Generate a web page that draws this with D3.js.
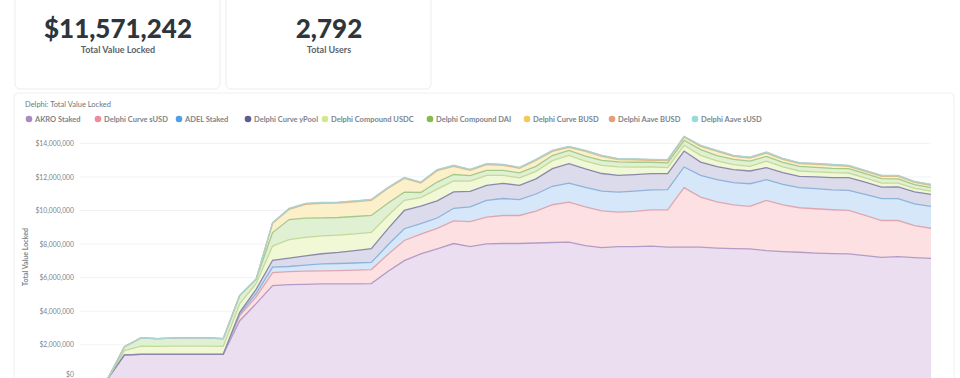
<!DOCTYPE html>
<html>
<head>
<meta charset="utf-8">
<script src="https://cdn.jsdelivr.net/npm/d3@7"></script>
<style>
  body { margin: 0; background: #fff; font-family: Lato, "Open Sans", sans-serif; }
  svg { display: block; }
</style>
</head>
<body>
<svg width="960" height="378"></svg>
<script>
// scalar cards
const cardValues = ["$11,571,242", "2,792"];
const cardLabels = ["Total Value Locked", "Total Users"];

// series, bottom to top of the stack
const seriesNames = ["AKRO Staked", "Delphi Curve sUSD", "ADEL Staked", "Delphi Curve yPool",
  "Delphi Compound USDC", "Delphi Compound DAI", "Delphi Curve BUSD", "Delphi Aave BUSD", "Delphi Aave sUSD"];

// daily values in $ millions
const akro = [0, 1.40, 1.42, 1.42, 1.42, 1.42, 1.42, 1.42, 3.43, 4.45, 5.52, 5.58, 5.60, 5.62, 5.62, 5.63, 5.64,
  6.36, 7.01, 7.41, 7.71, 8.03, 7.85, 8.01, 8.03, 8.03, 8.06, 8.09, 8.11, 7.91, 7.79, 7.85, 7.85, 7.88, 7.81,
  7.81, 7.81, 7.76, 7.73, 7.71, 7.61, 7.55, 7.51, 7.46, 7.43, 7.41, 7.31, 7.21, 7.25, 7.19, 7.15];
const curveSusd = [0, 0, 0, 0, 0, 0, 0, 0, 0.30, 0.40, 0.78, 0.78, 0.78, 0.78, 0.80, 0.82, 0.84,
  1.02, 1.20, 1.18, 1.22, 1.35, 1.48, 1.59, 1.67, 1.67, 1.90, 2.25, 2.39, 2.30, 2.18, 2.05, 2.10, 2.15, 2.23,
  3.55, 2.98, 2.75, 2.60, 2.53, 2.99, 2.78, 2.65, 2.64, 2.61, 2.59, 2.40, 2.19, 2.15, 1.90, 1.79];
const adel = [0, 0, 0, 0, 0, 0, 0, 0, 0.10, 0.20, 0.32, 0.30, 0.36, 0.42, 0.42, 0.42, 0.42,
  0.56, 0.70, 0.62, 0.62, 0.75, 0.88, 1.00, 1.01, 0.94, 1.02, 1.10, 1.13, 1.16, 1.18, 1.19, 1.20, 1.20, 1.20,
  1.23, 1.30, 1.32, 1.33, 1.35, 1.23, 1.22, 1.20, 1.20, 1.19, 1.19, 1.25, 1.30, 1.30, 1.30, 1.30];
const curveYpool = [0, 0, 0, 0, 0, 0, 0, 0, 0.10, 0.25, 0.41, 0.50, 0.55, 0.60, 0.66, 0.74, 0.83,
  0.96, 1.09, 1.05, 1.02, 0.98, 0.92, 0.89, 0.90, 0.85, 0.90, 1.05, 1.16, 1.10, 1.05, 1.00, 0.98, 0.96, 0.95,
  0.95, 0.79, 0.78, 0.77, 0.76, 0.72, 0.70, 0.67, 0.70, 0.73, 0.76, 0.72, 0.69, 0.70, 0.71, 0.72];
const compUsdc = [0, 0.25, 0.50, 0.48, 0.50, 0.50, 0.50, 0.48, 0.50, 0.35, 0.85, 1.10, 1.10, 1.07, 1.03, 1.00, 0.96,
  0.78, 0.60, 0.50, 0.70, 0.65, 0.62, 0.60, 0.48, 0.45, 0.45, 0.48, 0.49, 0.47, 0.48, 0.50, 0.45, 0.40, 0.36,
  0.34, 0.40, 0.34, 0.30, 0.28, 0.39, 0.34, 0.32, 0.30, 0.29, 0.28, 0.26, 0.24, 0.23, 0.21, 0.19];
const compDai = [0, 0.23, 0.48, 0.46, 0.47, 0.48, 0.48, 0.46, 0.50, 0.25, 0.80, 1.20, 1.15, 1.07, 1.05, 1.03, 1.01,
  0.75, 0.49, 0.31, 0.42, 0.38, 0.32, 0.30, 0.30, 0.30, 0.30, 0.30, 0.30, 0.30, 0.30, 0.30, 0.29, 0.28, 0.28,
  0.30, 0.34, 0.32, 0.31, 0.31, 0.28, 0.28, 0.28, 0.27, 0.26, 0.26, 0.26, 0.26, 0.25, 0.23, 0.21];
const curveBusd = [0, 0, 0, 0, 0, 0, 0, 0, 0, 0, 0.55, 0.60, 0.82, 0.86, 0.86, 0.87, 0.90,
  0.88, 0.82, 0.56, 0.68, 0.49, 0.32, 0.34, 0.30, 0.27, 0.35, 0.25, 0.18, 0.28, 0.24, 0.14, 0.14, 0.11, 0.14,
  0.18, 0.20, 0.25, 0.18, 0.18, 0.20, 0.17, 0.16, 0.18, 0.18, 0.14, 0.13, 0.14, 0.15, 0.13, 0.13];
const aaveBusd = [0, 0, 0, 0, 0, 0, 0, 0, 0, 0, 0.03, 0.04, 0.04, 0.04, 0.04, 0.04, 0.04,
  0.04, 0.04, 0.04, 0.04, 0.04, 0.04, 0.04, 0.04, 0.04, 0.04, 0.04, 0.04, 0.04, 0.04, 0.04, 0.04, 0.04, 0.04,
  0.04, 0.04, 0.04, 0.04, 0.04, 0.04, 0.04, 0.04, 0.04, 0.04, 0.04, 0.04, 0.04, 0.04, 0.04, 0.04];
const aaveSusd = [0, 0, 0, 0, 0, 0, 0, 0, 0, 0, 0.02, 0.02, 0.02, 0.02, 0.02, 0.02, 0.02,
  0.02, 0.02, 0.02, 0.02, 0.02, 0.02, 0.02, 0.02, 0.02, 0.02, 0.02, 0.02, 0.02, 0.02, 0.02, 0.02, 0.02, 0.02,
  0.02, 0.02, 0.02, 0.02, 0.02, 0.02, 0.02, 0.02, 0.02, 0.02, 0.02, 0.02, 0.02, 0.02, 0.02, 0.02];

const yTicks = [0, 2e6, 4e6, 6e6, 8e6, 10e6, 12e6, 14e6];

const dotColors = ["#a98bc0", "#ef8c9c", "#509ee3", "#5f5d8f", "#cfea8a", "#84bb4c", "#f1c95f", "#e5a07b", "#98d9d9"];
const fillColors = ["#e8dbef", "#fcdde0", "#d2e5f8", "#d9d8ea", "#eff7d2", "#dcefcf", "#fcefc6", "#f6dcc9", "#d6f0f0"];
const lineColors = ["#b49bc6", "#e0a6b0", "#8db3da", "#8a89ab", "#c5d99a", "#a5c989", "#d8c389", "#dcb49c", "#a8d4d4"];

const allSeries = [akro, curveSusd, adel, curveYpool, compUsdc, compDai, curveBusd, aaveBusd, aaveSusd];
const table = akro.map((_, i) => {
  const row = { day: i };
  seriesNames.forEach((n, k) => row[n] = allSeries[k][i] * 1e6);
  return row;
});

const svg = d3.select("svg");

//top cards
const cardX = [15, 226];
cardX.forEach((cx, i) => {
  svg.append("rect")
    .attr("x", cx).attr("y", -10).attr("width", 205).attr("height", 99)
    .attr("rx", 5)
    .attr("fill", "#fff").attr("stroke", "#ebedef");
  svg.append("text")
    .attr("x", cx + 103).attr("y", 38)
    .attr("text-anchor", "middle")
    .attr("font-size", 26).attr("font-weight", 900)
    .attr("fill", "#2e353b")
    .text(cardValues[i]);
  svg.append("text")
    .attr("x", cx + 103).attr("y", 53)
    .attr("text-anchor", "middle")
    .attr("font-size", 9).attr("font-weight", 700)
    .attr("fill", "#5a636b")
    .text(cardLabels[i]);
});

//chart card
svg.append("rect")
  .attr("x", 14).attr("y", 93).attr("width", 940).attr("height", 300)
  .attr("rx", 4)
  .attr("fill", "#fff").attr("stroke", "#eef0f2");

svg.append("text")
  .attr("x", 25).attr("y", 107)
  .attr("font-size", 7.5).attr("fill", "#6d767e")
  .text("Delphi: Total Value Locked");

//legend
const legendX = [29, 98, 179, 248, 325, 430, 527, 612, 695];
seriesNames.forEach((n, i) => {
  svg.append("circle")
    .attr("cx", legendX[i]).attr("cy", 119).attr("r", 3.3)
    .attr("fill", dotColors[i]);
  svg.append("text")
    .attr("x", legendX[i] + 6).attr("y", 121.5)
    .attr("font-size", 7.5).attr("font-weight", 700)
    .attr("fill", "#7c858d")
    .text(n);
});

//scales
const x = d3.scaleLinear().domain([0, akro.length - 1]).range([108, 931]);
const y = d3.scaleLinear().domain([0, 14e6]).range([378.3, 143.3]);

//grid
svg.append("g")
  .selectAll("line")
  .data(yTicks.slice(1))
  .join("line")
  .attr("x1", 80).attr("x2", 931)
  .attr("y1", d => y(d)).attr("y2", d => y(d))
  .attr("stroke", "#f1f2f4");

//stack
const stack = d3.stack().keys(seriesNames);
const layers = stack(table);

const area = d3.area()
  .x(d => x(d.data.day))
  .y0(d => y(d[0]))
  .y1(d => y(d[1]));

const line = d3.line()
  .x(d => x(d.data.day))
  .y(d => y(d[1]));

svg.append("g")
  .selectAll("path")
  .data(layers)
  .join("path")
  .attr("d", area)
  .attr("fill", (d, i) => fillColors[i])
  .attr("fill-opacity", 0.92);

svg.append("g")
  .selectAll("path")
  .data(layers)
  .join("path")
  .attr("d", line)
  .attr("fill", "none")
  .attr("stroke", (d, i) => lineColors[i])
  .attr("stroke-width", 1.3);

//y axis
const yAxis = svg.append("g")
  .attr("transform", "translate(78,0)")
  .call(d3.axisLeft(y).tickValues(yTicks).tickSize(0).tickPadding(4)
    .tickFormat(d => d === 0 ? "$0" : d3.format("$,.0f")(d)));
yAxis.select(".domain").remove();
yAxis.selectAll("text")
  .attr("font-family", "Lato")
  .attr("font-size", 6.8)
  .attr("fill", "#7c858d")
  .attr("dy", d => d === 0 ? "-0.2em" : "0.32em");

svg.append("text")
  .attr("transform", "translate(28,257) rotate(-90)")
  .attr("text-anchor", "middle")
  .attr("font-size", 7).attr("font-weight", 700)
  .attr("fill", "#7c858d")
  .text("Total Value Locked");
</script>
</body>
</html>
